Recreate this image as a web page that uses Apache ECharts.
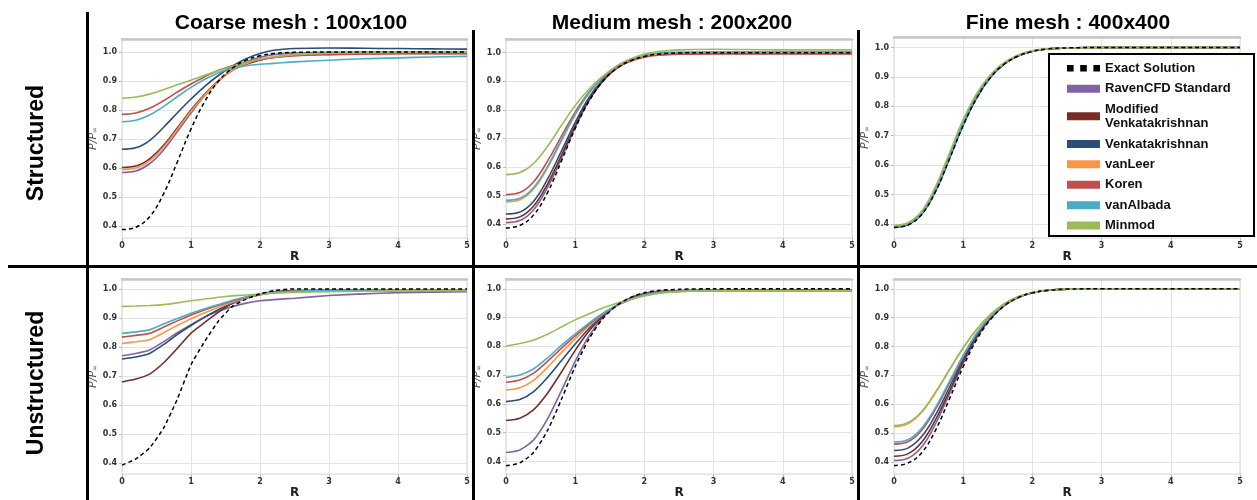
<!DOCTYPE html>
<html>
<head>
<meta charset="utf-8">
<script src="https://cdn.jsdelivr.net/npm/echarts@6/dist/echarts.min.js"></script>
<style>
  html, body { margin: 0; padding: 0; background: #fff; }
  #chart { width: 1257px; height: 500px; }
</style>
</head>
<body>
<div id="chart"></div>
<script>
// radial position R, shared by every panel
const R = [0, 0.2, 0.4, 0.6, 0.8, 1.0, 1.2, 1.4, 1.6, 1.8, 2.0, 2.2, 2.5, 3.0, 3.5, 4.0, 4.5, 5.0];

const names = ['Exact Solution', 'RavenCFD Standard', 'Modified\nVenkatakrishnan', 'Venkatakrishnan',
  'vanLeer', 'Koren', 'vanAlbada', 'Minmod'];
const colors = ['#000000', '#8064A2', '#772C2A', '#2C4D75', '#F79646', '#C0504D', '#4BACC6', '#9BBB59'];

const colTitles = ['Coarse mesh : 100x100', 'Medium mesh : 200x200', 'Fine mesh : 400x400'];
const rowTitles = ['Structured', 'Unstructured'];
const yTicks = [0.4, 0.5, 0.6, 0.7, 0.8, 0.9, 1.0];

// P/Pinf, one row per entry of names
const coarseStructured = [
  [0.388, 0.396, 0.432, 0.51, 0.62, 0.735, 0.83, 0.9, 0.945, 0.972, 0.987, 0.995, 0.999, 1.0, 1.0, 1.0, 1.0, 1.0],
  [0.585, 0.59, 0.615, 0.662, 0.725, 0.79, 0.85, 0.9, 0.94, 0.966, 0.982, 0.991, 0.997, 0.999, 1.0, 1.0, 1.0, 1.0],
  [0.602, 0.607, 0.632, 0.678, 0.738, 0.8, 0.855, 0.902, 0.937, 0.958, 0.972, 0.981, 0.988, 0.992, 0.994, 0.995, 0.995, 0.995],
  [0.665, 0.67, 0.695, 0.74, 0.79, 0.838, 0.882, 0.92, 0.952, 0.977, 0.995, 1.006, 1.012, 1.014, 1.013, 1.012, 1.011, 1.01],
  [0.595, 0.6, 0.625, 0.672, 0.733, 0.796, 0.852, 0.9, 0.937, 0.96, 0.975, 0.984, 0.99, 0.993, 0.995, 0.996, 0.996, 0.996],
  [0.785, 0.79, 0.806, 0.832, 0.862, 0.89, 0.915, 0.937, 0.953, 0.965, 0.974, 0.981, 0.987, 0.991, 0.993, 0.994, 0.994, 0.994],
  [0.76, 0.765, 0.783, 0.812, 0.846, 0.878, 0.906, 0.929, 0.945, 0.953, 0.958, 0.961, 0.966, 0.972, 0.977, 0.98, 0.983, 0.985],
  [0.841, 0.845, 0.855, 0.87, 0.887, 0.903, 0.92, 0.936, 0.951, 0.964, 0.975, 0.983, 0.991, 0.996, 0.998, 0.999, 1.0, 1.0]
];
const mediumStructured = [
  [0.386, 0.395, 0.432, 0.51, 0.62, 0.735, 0.83, 0.9, 0.945, 0.972, 0.987, 0.995, 0.999, 1.0, 1.0, 1.0, 1.0, 1.0],
  [0.405, 0.412, 0.45, 0.528, 0.63, 0.738, 0.832, 0.9, 0.946, 0.973, 0.988, 0.995, 0.998, 0.999, 1.0, 1.0, 1.0, 1.0],
  [0.418, 0.425, 0.463, 0.54, 0.64, 0.745, 0.836, 0.902, 0.946, 0.972, 0.986, 0.993, 0.996, 0.997, 0.997, 0.997, 0.997, 0.997],
  [0.435, 0.442, 0.48, 0.557, 0.655, 0.756, 0.843, 0.906, 0.948, 0.974, 0.988, 0.995, 0.998, 0.999, 0.999, 0.999, 0.999, 0.999],
  [0.478, 0.485, 0.523, 0.597, 0.69, 0.782, 0.858, 0.913, 0.951, 0.975, 0.989, 0.996, 0.999, 1.0, 1.0, 1.0, 1.0, 1.0],
  [0.503, 0.51, 0.548, 0.62, 0.707, 0.792, 0.862, 0.913, 0.948, 0.97, 0.984, 0.991, 0.995, 0.996, 0.996, 0.996, 0.996, 0.996],
  [0.483, 0.49, 0.528, 0.602, 0.694, 0.785, 0.86, 0.915, 0.953, 0.978, 0.992, 0.999, 1.002, 1.003, 1.003, 1.003, 1.003, 1.003],
  [0.573, 0.58, 0.612, 0.672, 0.745, 0.815, 0.873, 0.918, 0.953, 0.978, 0.995, 1.004, 1.01, 1.012, 1.011, 1.01, 1.01, 1.01]
];
const fineStructured = [
  [0.388, 0.396, 0.432, 0.51, 0.62, 0.735, 0.83, 0.9, 0.945, 0.972, 0.987, 0.995, 0.999, 1.0, 1.0, 1.0, 1.0, 1.0],
  [0.39, 0.398, 0.435, 0.514, 0.625, 0.74, 0.834, 0.902, 0.946, 0.973, 0.988, 0.995, 0.999, 1.0, 1.0, 1.0, 1.0, 1.0],
  [0.391, 0.399, 0.436, 0.515, 0.626, 0.741, 0.835, 0.902, 0.946, 0.973, 0.988, 0.995, 0.999, 1.0, 1.0, 1.0, 1.0, 1.0],
  [0.389, 0.397, 0.433, 0.511, 0.621, 0.736, 0.831, 0.9, 0.945, 0.972, 0.987, 0.995, 0.999, 1.0, 1.0, 1.0, 1.0, 1.0],
  [0.392, 0.4, 0.438, 0.518, 0.63, 0.745, 0.838, 0.904, 0.947, 0.974, 0.988, 0.995, 0.999, 1.0, 1.0, 1.0, 1.0, 1.0],
  [0.393, 0.401, 0.439, 0.52, 0.632, 0.747, 0.839, 0.905, 0.948, 0.974, 0.988, 0.995, 0.999, 1.0, 1.0, 1.0, 1.0, 1.0],
  [0.392, 0.4, 0.437, 0.517, 0.628, 0.743, 0.837, 0.903, 0.947, 0.974, 0.988, 0.995, 0.999, 1.0, 1.0, 1.0, 1.0, 1.0],
  [0.395, 0.404, 0.443, 0.527, 0.64, 0.755, 0.846, 0.909, 0.95, 0.975, 0.989, 0.996, 0.999, 1.0, 1.0, 1.0, 1.0, 1.0]
];
const coarseUnstructured = [
  [0.394, 0.415, 0.453, 0.52, 0.62, 0.739, 0.82, 0.89, 0.94, 0.965, 0.983, 0.994, 1.0, 1.0, 1.0, 1.0, 1.0, 1.0],
  [0.77, 0.778, 0.79, 0.818, 0.849, 0.877, 0.903, 0.924, 0.939, 0.951, 0.959, 0.963, 0.968, 0.977, 0.983, 0.987, 0.989, 0.99],
  [0.68, 0.69, 0.707, 0.745, 0.795, 0.848, 0.885, 0.92, 0.952, 0.97, 0.982, 0.99, 0.994, 0.995, 0.995, 0.995, 0.995, 0.995],
  [0.759, 0.766, 0.778, 0.808, 0.843, 0.874, 0.903, 0.929, 0.95, 0.968, 0.98, 0.988, 0.993, 0.995, 0.996, 0.996, 0.996, 0.996],
  [0.812, 0.818, 0.825, 0.849, 0.874, 0.897, 0.918, 0.937, 0.954, 0.969, 0.98, 0.987, 0.992, 0.994, 0.995, 0.995, 0.995, 0.995],
  [0.834, 0.84, 0.847, 0.868, 0.89, 0.91, 0.928, 0.944, 0.958, 0.971, 0.981, 0.987, 0.992, 0.994, 0.995, 0.995, 0.995, 0.995],
  [0.847, 0.852, 0.859, 0.879, 0.898, 0.916, 0.932, 0.946, 0.961, 0.973, 0.982, 0.988, 0.992, 0.994, 0.995, 0.995, 0.995, 0.995],
  [0.94, 0.941, 0.943, 0.946, 0.952, 0.959, 0.965, 0.971, 0.976, 0.979, 0.982, 0.985, 0.988, 0.99, 0.992, 0.993, 0.994, 0.995]
];
const mediumUnstructured = [
  [0.385, 0.395, 0.432, 0.508, 0.615, 0.73, 0.826, 0.897, 0.942, 0.97, 0.986, 0.994, 0.998, 1.0, 1.0, 1.0, 1.0, 1.0],
  [0.431, 0.44, 0.475, 0.548, 0.645, 0.748, 0.836, 0.9, 0.943, 0.969, 0.984, 0.991, 0.994, 0.995, 0.995, 0.995, 0.995, 0.995],
  [0.542, 0.55, 0.58, 0.637, 0.71, 0.786, 0.853, 0.905, 0.942, 0.966, 0.981, 0.989, 0.993, 0.995, 0.995, 0.995, 0.995, 0.995],
  [0.608, 0.615, 0.643, 0.692, 0.75, 0.808, 0.862, 0.908, 0.942, 0.965, 0.98, 0.988, 0.993, 0.995, 0.995, 0.995, 0.995, 0.995],
  [0.648, 0.656, 0.682, 0.727, 0.778, 0.826, 0.871, 0.911, 0.942, 0.964, 0.979, 0.987, 0.992, 0.994, 0.994, 0.994, 0.994, 0.994],
  [0.675, 0.683, 0.707, 0.748, 0.793, 0.836, 0.876, 0.913, 0.942, 0.963, 0.978, 0.986, 0.991, 0.993, 0.993, 0.993, 0.993, 0.993],
  [0.692, 0.7, 0.722, 0.76, 0.803, 0.843, 0.881, 0.915, 0.943, 0.963, 0.978, 0.986, 0.991, 0.993, 0.993, 0.993, 0.993, 0.993],
  [0.801, 0.81, 0.822, 0.842, 0.867, 0.892, 0.913, 0.933, 0.95, 0.963, 0.975, 0.984, 0.99, 0.993, 0.993, 0.993, 0.993, 0.993]
];
const fineUnstructured = [
  [0.388, 0.396, 0.432, 0.51, 0.618, 0.73, 0.826, 0.895, 0.942, 0.97, 0.986, 0.994, 0.999, 1.0, 1.0, 1.0, 1.0, 1.0],
  [0.405, 0.413, 0.452, 0.532, 0.635, 0.742, 0.832, 0.898, 0.943, 0.971, 0.986, 0.994, 0.999, 1.0, 1.0, 1.0, 1.0, 1.0],
  [0.42, 0.428, 0.468, 0.546, 0.645, 0.748, 0.836, 0.9, 0.944, 0.971, 0.986, 0.994, 0.999, 1.0, 1.0, 1.0, 1.0, 1.0],
  [0.44, 0.448, 0.488, 0.563, 0.658, 0.756, 0.84, 0.902, 0.945, 0.972, 0.986, 0.994, 0.999, 1.0, 1.0, 1.0, 1.0, 1.0],
  [0.522, 0.532, 0.572, 0.64, 0.718, 0.795, 0.861, 0.912, 0.949, 0.973, 0.987, 0.995, 0.999, 1.0, 1.0, 1.0, 1.0, 1.0],
  [0.462, 0.47, 0.51, 0.583, 0.673, 0.766, 0.846, 0.905, 0.946, 0.972, 0.986, 0.994, 0.999, 1.0, 1.0, 1.0, 1.0, 1.0],
  [0.469, 0.477, 0.517, 0.589, 0.678, 0.769, 0.848, 0.906, 0.946, 0.972, 0.986, 0.994, 0.999, 1.0, 1.0, 1.0, 1.0, 1.0],
  [0.526, 0.536, 0.575, 0.642, 0.72, 0.796, 0.861, 0.912, 0.949, 0.973, 0.987, 0.995, 0.999, 1.0, 1.0, 1.0, 1.0, 1.0]
];

// panel placement (pixels) and y extents
const panels = [
  { data: coarseStructured,   left: 122, top: 39,  width: 345, height: 199, yMin: 0.359, yMax: 1.045, smooth: 0.4 },
  { data: mediumStructured,   left: 506, top: 39,  width: 346, height: 199, yMin: 0.351, yMax: 1.048, smooth: 0.4 },
  { data: fineStructured,     left: 894, top: 37,  width: 346, height: 201, yMin: 0.352, yMax: 1.036, smooth: 0.4 },
  { data: coarseUnstructured, left: 122, top: 279, width: 345, height: 199, yMin: 0.363, yMax: 1.034, smooth: 0.15 },
  { data: mediumUnstructured, left: 506, top: 279, width: 346, height: 199, yMin: 0.356, yMax: 1.034, smooth: 0.25 },
  { data: fineUnstructured,   left: 894, top: 279, width: 346, height: 199, yMin: 0.358, yMax: 1.034, smooth: 0.4 }
];

const labelFont = { fontFamily: '"DejaVu Sans", sans-serif', fontWeight: 'bold', fontSize: 8, color: '#333' };
const nameFont = { fontFamily: '"DejaVu Sans", sans-serif', fontStyle: 'italic', color: '#555' };

const grid = [], xAxis = [], yAxis = [], series = [];
panels.forEach((p, k) => {
  grid.push({
    left: p.left, top: p.top, width: p.width, height: p.height,
    show: true, borderColor: '#d4d4d4', borderWidth: 1, backgroundColor: '#fff'
  });
  xAxis.push({
    type: 'value', gridIndex: k, min: 0, max: 5, interval: 1,
    name: 'R', nameLocation: 'middle', nameGap: 9,
    nameTextStyle: { fontFamily: '"DejaVu Sans", sans-serif', fontWeight: 'bold', fontSize: 12, color: '#222' },
    axisLine: { show: false },
    axisTick: { show: true, length: 3, lineStyle: { color: '#bbb' } },
    axisLabel: Object.assign({ margin: 4 }, labelFont),
    splitLine: { show: true, lineStyle: { color: '#e3e3e3', width: 1 } }
  });
  // top frame line, drawn a bit heavier
  xAxis.push({
    type: 'value', gridIndex: k, position: 'top', min: 0, max: 5,
    axisLine: { show: true, lineStyle: { color: '#c6c6c6', width: 2.5 } },
    axisTick: { show: false }, axisLabel: { show: false }, splitLine: { show: false }
  });
  yAxis.push({
    type: 'value', gridIndex: k, min: p.yMin, max: p.yMax,
    name: '{a|P/P}{s|∞}', nameLocation: 'middle', nameGap: 16, nameRotate: 90,
    nameTextStyle: {
      fontSize: 11,
      rich: {
        a: Object.assign({ fontSize: 11 }, nameFont),
        s: Object.assign({ fontSize: 7, padding: [5, 0, 0, 0] }, nameFont)
      }
    },
    axisLine: { show: false },
    axisTick: { show: true, length: 3, customValues: yTicks, lineStyle: { color: '#bbb' } },
    axisLabel: Object.assign({ margin: 5, customValues: yTicks, formatter: v => v.toFixed(1) }, labelFont),
    splitLine: { show: true, lineStyle: { color: '#e3e3e3', width: 1 } }
  });
  p.data.forEach((vals, i) => {
    const exact = i === 0;
    series.push({
      name: names[i], type: 'line', xAxisIndex: 2 * k, yAxisIndex: k,
      data: R.map((r, j) => [r, vals[j]]),
      showSymbol: false, smooth: p.smooth,
      z: exact ? 5 : 3,
      color: colors[i],
      itemStyle: { color: colors[i] },
      lineStyle: exact ? { color: '#000', width: 1.5, type: [4, 3] } : { color: colors[i], width: 1.6 },
      emphasis: { disabled: true },
      animation: false
    });
  });
});

const chart = echarts.init(document.getElementById('chart'), null, { renderer: 'canvas' });
chart.setOption({
  backgroundColor: '#fff',
  animation: false,
  grid, xAxis, yAxis, series,
  legend: {
    orient: 'vertical', left: 1062, top: 56, z: 20,
    itemWidth: 33, itemHeight: 8, itemGap: 5.9, selectedMode: false,
    textStyle: { fontFamily: '"Liberation Sans", Arial, sans-serif', fontWeight: 'bold', fontSize: 13, color: '#111', lineHeight: 14.5 },
    data: names.map((n, i) => ({
      name: n,
      icon: i === 0 ? 'path://M0,0h6v6h-6zM12,0h6v6h-6zM24,0h6v6h-6z' : 'rect',
      itemStyle: { color: colors[i], borderWidth: 0 }
    }))
  },
  graphic: [
    // panel dividers
    { type: 'rect', shape: { x: 86, y: 12, width: 3, height: 488 }, style: { fill: '#000' }, z: 10 },
    { type: 'rect', shape: { x: 472, y: 30, width: 3, height: 470 }, style: { fill: '#000' }, z: 10 },
    { type: 'rect', shape: { x: 857, y: 30, width: 3, height: 470 }, style: { fill: '#000' }, z: 10 },
    { type: 'rect', shape: { x: 8, y: 265, width: 1249, height: 3 }, style: { fill: '#000' }, z: 10 },
    // legend frame
    { type: 'rect', shape: { x: 1049, y: 54, width: 205, height: 182 }, style: { fill: '#fff', stroke: '#000', lineWidth: 2 }, z: 15 },
    // column titles
    ...colTitles.map((t, i) => ({
      type: 'text', x: [291, 672, 1068][i], y: 23, z: 10,
      style: { text: t, font: 'bold 21px "Liberation Sans", Arial, sans-serif', fill: '#000', textAlign: 'center', textVerticalAlign: 'middle' }
    })),
    // row titles
    ...rowTitles.map((t, i) => ({
      type: 'text', x: 37, y: [143, 383][i], rotation: Math.PI / 2, z: 10,
      style: { text: t, font: 'bold 23px "Liberation Sans", Arial, sans-serif', fill: '#000', textAlign: 'center', textVerticalAlign: 'middle' }
    }))
  ]
});
</script>
</body>
</html>
